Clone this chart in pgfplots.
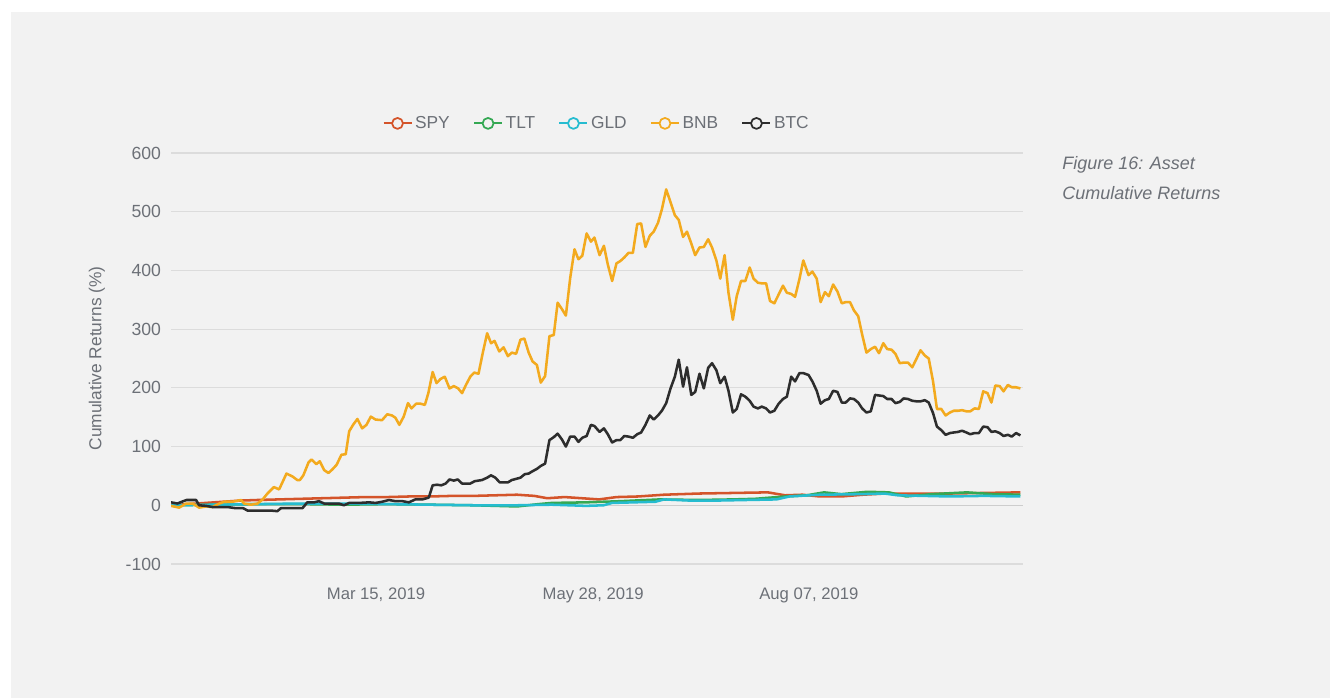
\documentclass[border=0pt]{standalone}
\usepackage{fontspec}
\setmainfont{Liberation Sans}
\usepackage{pgfplots}
\pgfplotsset{compat=1.18}
\definecolor{bg}{HTML}{F2F2F2}
\definecolor{gridc}{HTML}{DCDCDC}
\definecolor{zeroc}{HTML}{CDCDCD}
\definecolor{tick}{HTML}{6C7077}
\definecolor{spy}{RGB}{212,84,42}
\definecolor{tlt}{RGB}{52,168,83}
\definecolor{gld}{RGB}{38,188,208}
\definecolor{bnb}{RGB}{243,170,30}
\definecolor{btc}{HTML}{2D2D2D}

\begin{document}
\begin{tikzpicture}[x=0.75pt,y=0.75pt]
\fill[white] (0,0) rectangle (1330,698);
\fill[bg] (11,0) rectangle (1330,686);
\begin{axis}[
  at={(128.25pt,100.5pt)}, anchor=south west,
  scale only axis, width=639pt, height=308.25pt,
  xmin=0, xmax=197, ymin=-100, ymax=600,
  ytick={-100,0,...,600},
  xtick={47.4,97.6,147.5},
  xticklabels={{Mar 15, 2019},{May 28, 2019},{Aug 07, 2019}},
  ymajorgrids, grid style={draw=gridc, line width=0.8pt},
  extra y ticks={0}, extra y tick labels={},
  extra y tick style={grid style={draw=zeroc, line width=1.1pt}},
  axis line style={draw=none}, major tick length=0pt,
  tick label style={font=\fontsize{12.5}{15}\selectfont, text=tick},
  yticklabel style={font=\fontsize{13.2}{15}\selectfont},
  /pgf/number format/assume math mode=true,
  yticklabel style={xshift=-4pt},
  xticklabel style={yshift=-14pt},
  ylabel={Cumulative Returns (\%)},
  every axis y label/.style={at={(axis description cs:-0.0869,0.5)}, rotate=90, anchor=center,
    font=\fontsize{13}{15}\selectfont, text=tick},
  legend columns=5,
  legend style={at={(axis description cs:0.5,1.072)}, anchor=center, draw=none, fill=none,
    font=\fontsize{13}{15}\selectfont, text=tick,
    /tikz/every even column/.append style={column sep=15.5pt}},
  legend image code/.code={
    \draw[#1, line width=1.4pt] (0pt,0pt) -- (21pt,0pt);
    \draw[#1, fill=bg, line width=1.3pt] (10.5pt,0pt) circle (4.1pt);
  },
  every axis plot/.append style={line width=1.9pt, line join=round, no markers},
]
\addplot[spy] table {
x y
0 0
4 2
8 4
12 6
16 8
20 9
25 10
30 11
35 12
40 13
45 14
50 14
55 15
60 15
65 16
70 16
75 17
80 18
84 16
87 12
91 14
95 12
99 10
103 14
108 15
114 18
122 20
130 21
138 22
142 17
146 18
150 15
155 15
160 18
165 20
172 20
180 20
188 21
196.4 22
};
\addplot[tlt] table {
x y
0 0
10 1
20 2
30 2
40 1
50 2
60 1
70 0
80 -2
85 2
88 4
96 5
104 7
113 10
122 9
130 10
135 11
142 15
147 17
151 22
155 19
161 23
166 22
170 15
176 19
184 22
190 19
196.4 18
};
\addplot[gld] table {
x y
0 0
10 1
20 2
30 3
40 3
50 2
60 1
70 0
80 0
88 1
96 -1
100 0
102 4
112 6
114 10
120 8
126 8
140 10
143 15
150 18
160 19
165 20
168 17
180 15
188 16
196.4 15
};
\addplot[bnb] table {
x y
0 -1
1.9 -4
3.5 3
5 3
6.5 -4
8.1 -2
9.6 -3
11.2 3
12.3 6
14.2 6
16.2 9
16.9 3
18.5 1
20 3
21.2 10
22.3 20
23.8 31
25 27
26.7 54
28.1 49
29.2 43
29.8 43
30.6 51
31.8 73
32.5 78
33.6 70
34.4 75
35.4 60
36.4 55
37.3 61
38.3 69
39.4 86
40.4 87
41.2 126
42.1 137
43.1 147
44.2 131
45.2 137
46.2 151
47.3 146
48.8 145
50 155
51.1 153
51.9 149
52.8 137
53.8 151
54.8 174
55.6 165
56.7 173
57.7 173
58.7 171
59.5 191
60.5 227
61.4 208
62.3 215
63.3 219
64.4 199
65.4 203
66.4 199
67.3 191
68.2 205
69.2 219
70.1 226
71.1 224
72.1 260
73.1 293
74 276
74.8 280
75.9 262
76.9 269
77.9 254
78.8 260
79.8 258
80.8 282
81.7 284
82.7 260
83.6 245
84.6 239
85.5 209
86.5 220
87.5 288
88.5 290
89.4 345
90.4 334
91.3 323
92.3 387
93.3 436
94.2 419
95.1 425
96.1 463
97.1 449
97.9 456
99.1 426
100.1 442
101 410
102 382
103 412
103.9 416
104.8 422
105.8 430
106.8 430
107.8 479
108.7 480
109.7 440
110.7 459
111.6 466
112.6 481
113.5 504
114.5 538
115.5 516
116.5 494
117.4 486
118.4 457
119.3 466
120.3 446
121.2 426
122.2 439
123.2 440
124.2 453
125.1 439
126.1 417
127 386
128 426
128.9 362
129.9 316
130.8 356
131.8 382
132.8 382
133.8 405
134.7 386
135.7 379
136.6 378
137.6 378
138.5 348
139.5 344
140.5 359
141.5 374
142.4 362
143.4 360
144.3 355
145.3 385
146.2 417
147.4 392
148.3 398
149.3 386
150.2 346
151.2 363
152.1 356
153.1 376
154.1 364
155.1 344
156 346
157 346
157.9 332
158.9 322
159.8 291
160.8 260
161.8 266
162.8 270
163.7 259
164.7 276
165.6 266
166.6 265
167.5 258
168.5 242
169.4 243
170.4 243
171.4 235
172.4 250
173.3 264
174.3 255
175.2 250
176.2 211
177.1 164
178.1 164
179.1 153
180.1 158
181 161
182 161
182.9 162
183.9 160
184.8 160
185.8 165
186.8 164
187.8 194
188.8 191
189.7 175
190.6 204
191.6 203
192.5 194
193.5 205
194.4 201
195.4 201
196.4 199
};
\addplot[btc] table {
x y
0 5
1.5 3
2.5 6
3.6 9
4.6 9
5.8 9
6.5 0
8.1 -1
9.6 -3
11.2 -3
13.1 -3
15 -5
16.7 -5
17.7 -9
19.2 -9
21.2 -9
23.1 -9
24.6 -10
25.4 -5
26.5 -5
28.8 -5
30.4 -5
31.5 5
33.1 5
34.2 7
35.4 3
37.3 3
38.8 3
40 0
41.2 4
43.5 4
45.8 5
47.3 4
48.8 6
50.4 9
51.9 7
53.5 7
55 5
56.5 10
58.1 10
59.6 13
60.5 34
61.5 35
62.5 34
63.5 37
64.4 44
65.4 42
66.3 44
67.3 37
69.2 37
70.2 41
71.9 43
73.1 47
74 51
75 47
76 39
77.9 39
78.8 43
80.8 47
81.8 53
82.7 54
83.6 58
84.6 62
85.5 67
86.5 71
87.5 111
88.5 116
89.4 122
90.4 112
91.3 100
92.3 117
93.3 117
94.2 108
95.1 115
96.1 118
97.1 137
97.9 135
99.1 125
100.1 131
101 121
102 107
103 111
103.9 111
104.8 118
105.8 117
106.8 115
107.8 121
108.7 124
109.7 137
110.7 153
111.6 146
112.6 153
113.5 161
114.5 174
115.5 199
116.5 219
117.4 248
118.4 202
119.3 235
120.3 188
121.2 193
122.2 224
123.2 199
124.2 234
125.1 242
126.1 230
127 208
128 219
128.9 195
129.9 158
130.8 164
131.8 189
132.8 185
133.8 178
134.7 168
135.7 165
136.6 168
137.6 165
138.5 158
139.5 161
140.5 173
141.5 181
142.4 185
143.4 219
144.3 211
145.3 225
146.2 225
147.4 222
148.3 211
149.3 195
150.2 173
151.2 179
152.1 181
153.1 195
154.1 193
155.1 175
156 175
157 182
157.9 181
158.9 175
159.8 165
160.8 158
161.8 160
162.8 188
163.7 187
164.7 186
165.6 181
166.6 181
167.5 174
168.5 176
169.4 182
170.4 181
171.4 178
172.4 177
173.3 177
174.3 179
175.2 175
176.2 157
177.1 134
178.1 128
179.1 120
180.1 123
181 124
182 125
182.9 127
183.9 124
184.8 121
185.8 123
186.8 123
187.8 134
188.8 133
189.7 125
190.6 126
191.6 123
192.5 118
193.5 120
194.4 117
195.4 123
196.4 119
};
\legend{SPY, TLT, GLD, BNB, BTC}
\end{axis}
\node[anchor=west, inner sep=0pt, text=tick, font=\fontsize{13.5}{15}\selectfont\itshape] at (1062,533) {Figure 16: Asset};
\node[anchor=west, inner sep=0pt, text=tick, font=\fontsize{13.5}{15}\selectfont\itshape] at (1062,505) {Cumulative Returns};
\end{tikzpicture}
\end{document}
